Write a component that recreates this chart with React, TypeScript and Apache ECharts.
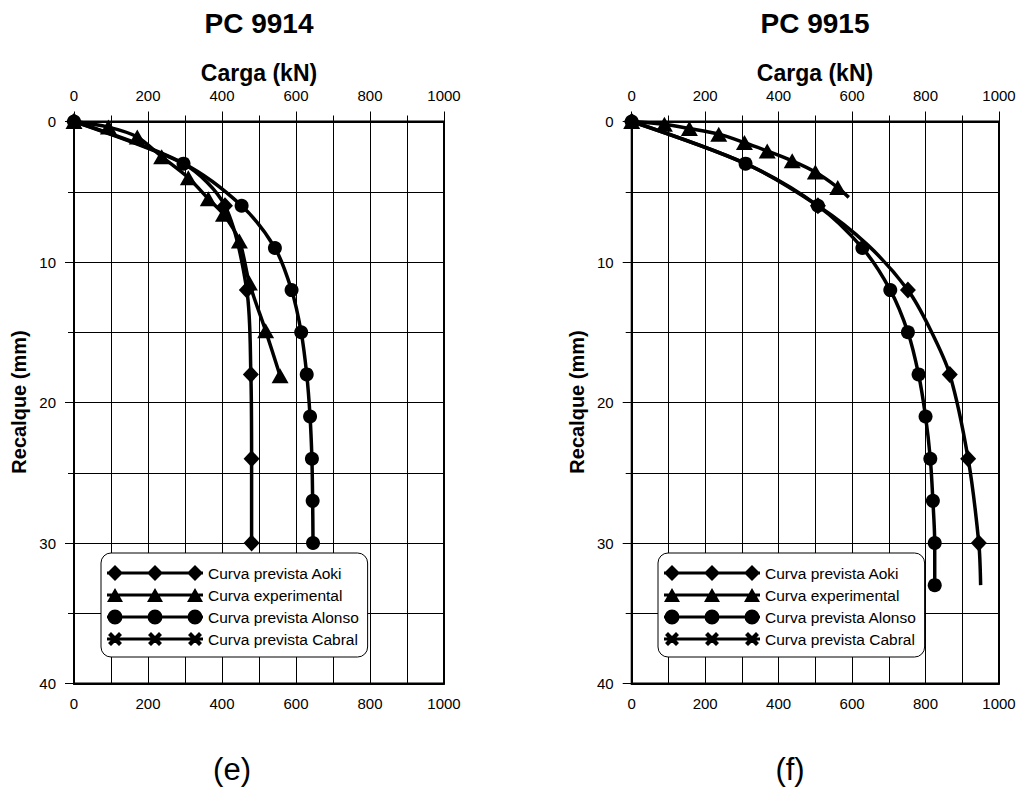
import React, { useEffect, useRef } from "react";
import * as echarts from "echarts";

// ---------- data ----------
const SERIES_NAMES = [
  "Curva prevista Aoki",
  "Curva experimental",
  "Curva prevista Alonso",
  "Curva prevista Cabral",
];
const X_TICKS = [0, 200, 400, 600, 800, 1000];
const Y_TICKS = [0, 10, 20, 30, 40];

// PC 9914
const aoki14Load = [0, 296, 408, 467, 478, 480, 480];
const aoki14Settle = [0, 3, 6, 12, 18, 24, 30];
const aoki14NoMark = [1];
const exp14Load = [0, 93, 171, 237, 309, 363, 404, 447, 474, 518, 557];
const exp14Settle = [0, 0.4, 1.1, 2.5, 4.0, 5.5, 6.6, 8.5, 11.5, 14.9, 18.1];
const alonso14Load = [0, 296, 453, 543, 588, 614, 629, 638, 643, 645, 646];
const alonso14Settle = [0, 3, 6, 9, 12, 15, 18, 21, 24, 27, 30];

// PC 9915
const aoki15Load = [0, 310, 507, 643, 752, 811, 866, 916, 945, 950];
const aoki15Settle = [0, 3, 6, 8.8, 12, 14.7, 18, 24, 30, 33];
const aoki15NoMark = [1, 3, 5, 9];
const exp15Load = [0, 89, 157, 237, 307, 369, 437, 500, 561, 591];
const exp15Settle = [0, 0.2, 0.5, 0.9, 1.5, 2.1, 2.8, 3.6, 4.7, 5.4];
const exp15NoMark = [9];
const alonso15Load = [0, 310, 507, 628, 704, 752, 781, 800, 813, 820, 825, 825];
const alonso15Settle = [0, 3, 6, 9, 12, 15, 18, 21, 24, 27, 30, 33];

const FONT = '"Liberation Sans", Arial, sans-serif';

function pts(xs: number[], ys: number[], hidden: number[] = []) {
  return xs.map((x, i) =>
    hidden.includes(i) ? { value: [x, ys[i]], symbol: "none" } : [x, ys[i]]
  );
}

// legend icons (line with three markers), drawn in a 96 x 16 box
const CX = [8, 48, 88];
const LINE = "M0 6.5 L96 6.5 L96 9.5 L0 9.5 Z";
const diamondIcon =
  "path://" + LINE + CX.map((c) => ` M${c - 8} 8 L${c} 0 L${c + 8} 8 L${c} 16 Z`).join("");
const triangleIcon =
  "path://" + LINE + CX.map((c) => ` M${c - 8} 15 L${c} 1 L${c + 8} 15 Z`).join("") + " M0 0 L0.01 0 L0.01 0.01 Z M0 15.99 L0.01 15.99 L0.01 16 Z";
const circleIcon =
  "path://" +
  LINE +
  CX.map((c) => ` M${c - 7.5} 8 A7.5 7.5 0 1 1 ${c + 7.5} 8 A7.5 7.5 0 1 1 ${c - 7.5} 8 Z`).join("") +
  " M0 0 L0.01 0 L0.01 0.01 Z M0 15.99 L0.01 15.99 L0.01 16 Z";
const crossIcon =
  "path://" +
  LINE +
  CX.map(
    (c) =>
      ` M${c - 4} 1 L${c + 7} 12 L${c + 4} 15 L${c - 7} 4 Z` +
      ` M${c + 4} 1 L${c + 7} 4 L${c - 4} 15 L${c - 7} 12 Z`
  ).join("") +
  " M0 0 L0.01 0 L0.01 0.01 Z M0 15.99 L0.01 15.99 L0.01 16 Z";
const ICONS = [diamondIcon, triangleIcon, circleIcon, crossIcon];

const GRIDS = [
  { left: 74, top: 121.5, width: 370, height: 562 },
  { left: 631.7, top: 121.5, width: 367.3, height: 562 },
];

export default function App() {
  const ref = useRef<HTMLDivElement>(null);
  useEffect(() => {
    document.body.style.margin = "0";
    const chart = echarts.init(ref.current!, null, { renderer: "svg" });

    const fmt = (v: number) => String(v);
    const xAxes: any[] = [];
    const yAxes: any[] = [];
    GRIDS.forEach((_, g) => {
      xAxes.push({
        gridIndex: g,
        type: "value",
        position: "top",
        min: X_TICKS[0],
        max: X_TICKS[X_TICKS.length - 1],
        interval: X_TICKS[1] - X_TICKS[0],
        axisLine: { show: true, onZero: false, lineStyle: { color: "#000", width: 2 } },
        axisTick: { show: true, length: 10, lineStyle: { color: "#000", width: 1 } },
        minorTick: { show: true, splitNumber: 2, length: 6, lineStyle: { color: "#000", width: 1 } },
        axisLabel: { margin: 19, fontSize: 15, color: "#000", fontFamily: FONT, formatter: fmt },
        splitLine: { show: true, lineStyle: { color: "#000", width: 1 } },
        minorSplitLine: { show: true, lineStyle: { color: "#000", width: 1 } },
      });
      xAxes.push({
        gridIndex: g,
        type: "value",
        position: "bottom",
        min: X_TICKS[0],
        max: X_TICKS[X_TICKS.length - 1],
        interval: X_TICKS[1] - X_TICKS[0],
        axisLine: { show: true, onZero: false, lineStyle: { color: "#000", width: 2 } },
        axisTick: { show: false },
        axisLabel: { margin: 12, fontSize: 15, color: "#000", fontFamily: FONT, formatter: fmt },
        splitLine: { show: false },
      });
      yAxes.push({
        gridIndex: g,
        type: "value",
        inverse: true,
        min: Y_TICKS[0],
        max: Y_TICKS[Y_TICKS.length - 1],
        interval: Y_TICKS[1] - Y_TICKS[0],
        axisLine: { show: true, onZero: false, lineStyle: { color: "#000", width: 2 } },
        axisTick: { show: true, length: 9, lineStyle: { color: "#000", width: 1 } },
        minorTick: { show: true, splitNumber: 2, length: 6, lineStyle: { color: "#000", width: 1 } },
        axisLabel: { margin: 18, fontSize: 15, color: "#000", fontFamily: FONT, formatter: fmt },
        splitLine: { show: true, lineStyle: { color: "#000", width: 1 } },
        minorSplitLine: { show: true, lineStyle: { color: "#000", width: 1 } },
      });
    });

    const lineBase = (g: number) => ({
      type: "line",
      xAxisIndex: g * 2,
      yAxisIndex: g,
      smooth: 0.3,
      color: "#000",
      lineStyle: { color: "#000", width: 3.5 },
      itemStyle: { color: "#000" },
      emphasis: { disabled: true },
    });

    const sets = [
      [
        pts(aoki14Load, aoki14Settle, aoki14NoMark),
        pts(exp14Load, exp14Settle),
        pts(alonso14Load, alonso14Settle),
      ],
      [
        pts(aoki15Load, aoki15Settle, aoki15NoMark),
        pts(exp15Load, exp15Settle, exp15NoMark),
        pts(alonso15Load, alonso15Settle),
      ],
    ];

    const series: any[] = [];
    sets.forEach((s, g) => {
      series.push({ ...lineBase(g), name: SERIES_NAMES[0], symbol: "diamond", symbolSize: [16, 17], data: s[0] });
      series.push({ ...lineBase(g), name: SERIES_NAMES[1], symbol: "triangle", symbolSize: [17, 15], data: s[1] });
      series.push({ ...lineBase(g), name: SERIES_NAMES[2], symbol: "circle", symbolSize: 14, data: s[2] });
      series.push({ ...lineBase(g), name: SERIES_NAMES[3], symbol: crossIcon, symbolSize: 14, data: [] });
    });

    const legendFor = (left: number) => ({
      orient: "vertical",
      left,
      top: 553,
      data: SERIES_NAMES.map((n, i) => ({ name: n, icon: ICONS[i] })),
      itemWidth: 96,
      itemHeight: 16,
      itemGap: 6,
      selectedMode: false,
      textStyle: { fontSize: 15.5, fontFamily: FONT, color: "#000" },
      backgroundColor: "#fff",
      borderColor: "#000",
      borderWidth: 1,
      borderRadius: 10,
      padding: [12, 8, 10, 6],
      z: 10,
    });

    const txt = (text: string, x: number, y: number, font: string, rotation = 0) => ({
      type: "text",
      x,
      y,
      rotation,
      style: { text, font, fill: "#000", align: "center", verticalAlign: "middle" },
    });

    chart.setOption({
      animation: false,
      backgroundColor: "#fff",
      grid: GRIDS.map((g) => ({ ...g, show: true, borderColor: "#000", borderWidth: 2, backgroundColor: "transparent" })),
      xAxis: xAxes,
      yAxis: yAxes,
      legend: [legendFor(101), legendFor(658)],
      series,
      graphic: [
        txt("PC 9914", 259, 23, `bold 28px ${FONT}`),
        txt("PC 9915", 815, 23, `bold 28px ${FONT}`),
        txt("Carga (kN)", 259, 73, `bold 23px ${FONT}`),
        txt("Carga (kN)", 815, 73, `bold 23px ${FONT}`),
        txt("Recalque (mm)", 19, 402, `bold 20px ${FONT}`, Math.PI / 2),
        txt("Recalque (mm)", 577, 402, `bold 20px ${FONT}`, Math.PI / 2),
        txt("(e)", 232, 769, `31px ${FONT}`),
        txt("(f)", 790, 769, `31px ${FONT}`),
      ],
    });
    return () => chart.dispose();
  }, []);
  return <div ref={ref} style={{ width: 1022, height: 789 }} />;
}
